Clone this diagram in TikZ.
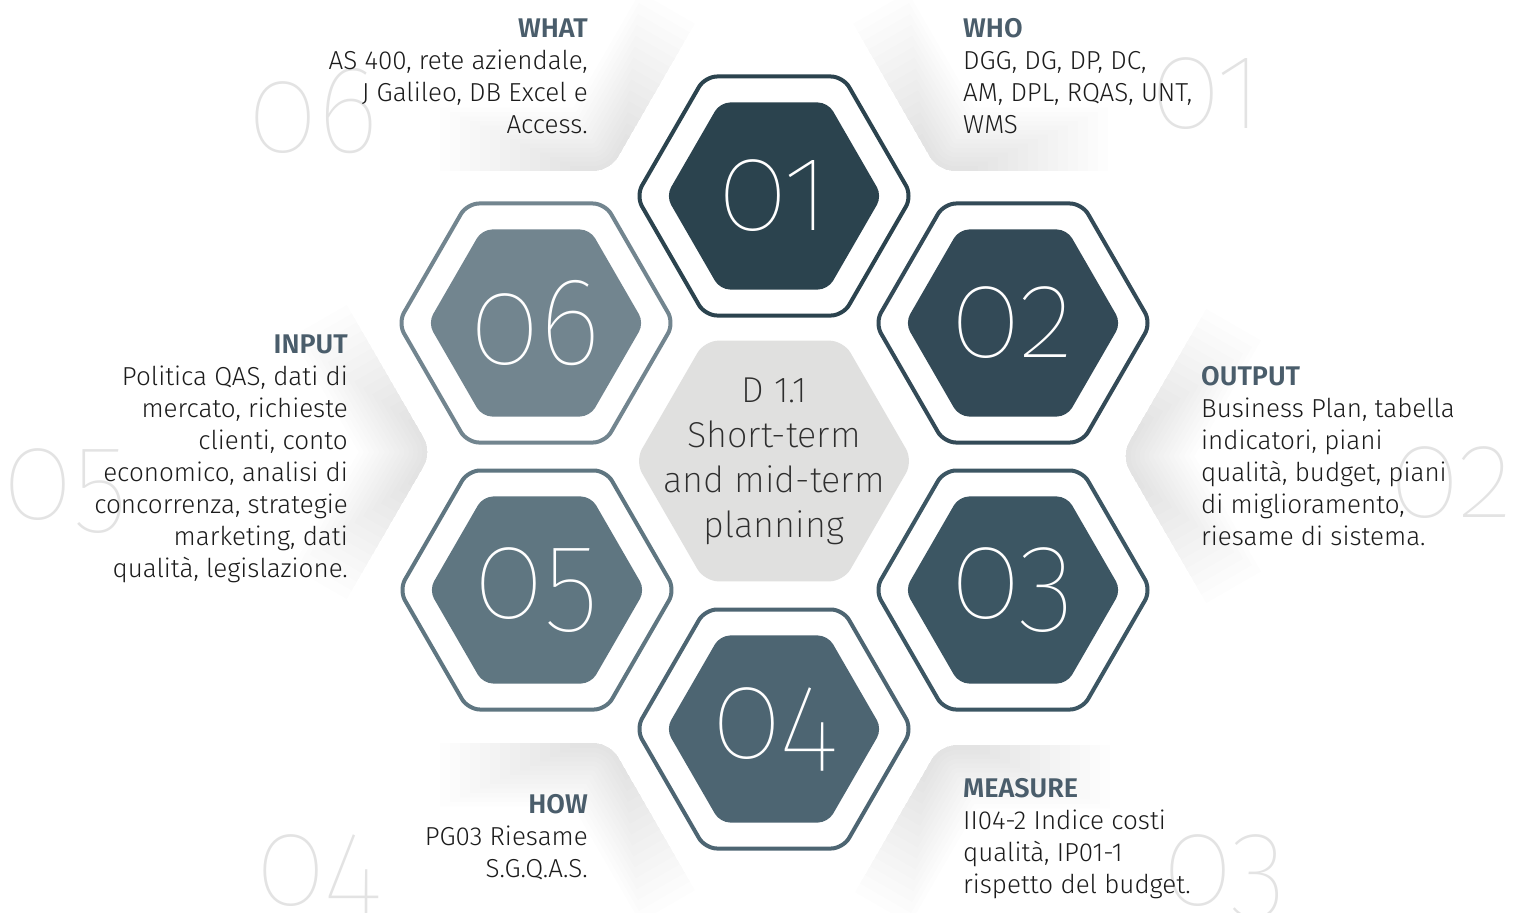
\documentclass[tikz,border=0pt]{standalone}
\usepackage{fontspec}
\setmainfont{FiraSans-Light.ttf}[BoldFont=FiraSans-SemiBold.ttf]
\newfontfamily\thinnum{FiraSans-Thin.ttf}[Numbers=OldStyle, FakeStretch=0.94]
\newfontfamily\ctrfont{FiraSans-ExtraLight.ttf}
\definecolor{hA}{HTML}{2B434E}
\definecolor{hB}{HTML}{334A57}
\definecolor{hC}{HTML}{3C5663}
\definecolor{hD}{HTML}{4D6572}
\definecolor{hE}{HTML}{5F7681}
\definecolor{hF}{HTML}{72858F}
\definecolor{headc}{HTML}{4A5D6B}
\definecolor{bodyc}{HTML}{1C1C1C}
\definecolor{centerc}{HTML}{E0E0DF}
\definecolor{ctext}{HTML}{2E2E2E}
\definecolor{faint}{HTML}{E3E3E3}
\newcommand\hexpath[3]{(#1+#3,#2) -- (#1+0.5*#3,#2+0.866*#3) -- (#1-0.5*#3,#2+0.866*#3) -- (#1-#3,#2) -- (#1-0.5*#3,#2-0.866*#3) -- (#1+0.5*#3,#2-0.866*#3) -- cycle}
% soft shadow inside a clip shape, strongest at a corner and along two arms
% #1 clip shape, #2,#3 corner, #4,#5 arm-1 direction, #6,#7 arm-2 direction
\newcommand\cornershadow[7]{%
  \begin{scope}
    \clip[rounded corners=16bp] #1;
    \foreach \i in {1,...,14} {%
      \pgfmathsetmacro\w{136-9*\i}%
      \pgfmathsetmacro\l{180-10*\i}%
      \draw[shadowstroke, line width=\w bp] ({#2+(#4)*\l},{#3+(#5)*\l}) -- (#2,#3) -- ({#2+(#6)*\l},{#3+(#7)*\l});
    }
  \end{scope}}
\newcommand\hd[1]{{\color{headc}\bfseries\fontsize{27bp}{32bp}\selectfont #1}}
\tikzset{
  hexline/.style={line width=4bp, rounded corners=12bp},
  hexfill/.style={rounded corners=10bp},
  shadowstroke/.style={black, opacity=0.0095, rounded corners=16bp},
  num/.style={inner sep=0pt, text=white, font=\thinnum\fontsize{125bp}{125bp}\selectfont},
  faintnum/.style={inner sep=0pt, text=faint, font=\thinnum\fontsize{125bp}{125bp}\selectfont},
  blockR/.style={align=right, inner sep=0pt, text=bodyc, font=\fontsize{26bp}{32bp}\selectfont},
  blockL/.style={align=left, inner sep=0pt, text=bodyc, font=\fontsize{26bp}{32bp}\selectfont},
  ctr/.style={align=center, inner sep=0pt, text=ctext, font=\ctrfont\fontsize{36bp}{45bp}\selectfont}
}
\begin{document}
\begin{tikzpicture}[x=1bp,y=-1bp]
\useasboundingbox[fill=white] (0,0) rectangle (1518,912);
% soft shadows behind text blocks
\cornershadow{(380,-20) -- (720,-20) -- (610,171) -- (380,171) -- cycle}{610}{171}{-1}{0}{0.5}{-0.866}
\cornershadow{(828,-20) -- (1140,-20) -- (1140,171) -- (938,171) -- cycle}{938}{171}{-0.5}{-0.866}{1}{0}
\cornershadow{(260,250) -- (315,250) -- (432,452) -- (315,654) -- (260,654) -- cycle}{432}{452}{-0.5}{-0.866}{-0.5}{0.866}
\cornershadow{(1121,456) -- (1238,254) -- (1290,254) -- (1290,658) -- (1238,658) -- cycle}{1121}{456}{0.5}{-0.866}{0.5}{0.866}
\cornershadow{(940,745) -- (1140,745) -- (1140,932) -- (832,932) -- cycle}{940}{745}{-0.5}{0.866}{1}{0}
\cornershadow{(380,743) -- (610,743) -- (719,932) -- (380,932) -- cycle}{610}{743}{-1}{0}{0.5}{0.866}
% faint background numbers
\node[faintnum, anchor=base west] (f6) at (248.5,152) {06};
\node[faintnum, anchor=base west] (f1) at (1151,128) {01};
\node[faintnum, anchor=base west] (f5) at (3.5,519) {05};
\node[faintnum, anchor=base east] (f2) at (1514,517) {02};
\node[faintnum, anchor=base west] (f3) at (1163,905) {03};
\node[faintnum, anchor=base west] (f4) at (256,905) {04};
% centre hexagon
\fill[centerc, rounded corners=14bp] \hexpath{774}{461}{139};
\node[ctr, anchor=north] (ctrtext) at (774,378) {D 1.1\\Short-term\\and mid-term\\planning};
% hexagons
\draw[hexline, draw=hA] \hexpath{774}{196}{138};
\fill[hexfill, hA] \hexpath{774}{196}{108};
\node[num] (n1) at (774,196) {01};
\draw[hexline, draw=hB] \hexpath{1013}{323}{138};
\fill[hexfill, hB] \hexpath{1013}{323}{108};
\node[num] (n2) at (1013,323) {02};
\draw[hexline, draw=hC] \hexpath{1013}{590}{138};
\fill[hexfill, hC] \hexpath{1013}{590}{108};
\node[num] (n3) at (1013,590) {03};
\draw[hexline, draw=hD] \hexpath{774}{729}{138};
\fill[hexfill, hD] \hexpath{774}{729}{108};
\node[num] (n4) at (774,729) {04};
\draw[hexline, draw=hE] \hexpath{537}{590}{138};
\fill[hexfill, hE] \hexpath{537}{590}{108};
\node[num] (n5) at (537,590) {05};
\draw[hexline, draw=hF] \hexpath{536}{323}{138};
\fill[hexfill, hF] \hexpath{536}{323}{108};
\node[num] (n6) at (536,323) {06};
% text blocks
\node[blockR, anchor=north east] (what) at (588,18.4) {\hd{WHAT}\\AS 400, rete aziendale,\\J Galileo, DB Excel e\\Access.};
\node[blockL, anchor=north west] (who) at (963,18.4) {\hd{WHO}\\DGG, DG, DP, DC,\\AM, DPL, RQAS, UNT,\\WMS};
\node[blockR, anchor=north east] (input) at (348,334.4) {\hd{INPUT}\\Politica QAS, dati di\\mercato, richieste\\clienti, conto\\economico, analisi di\\concorrenza, strategie\\marketing, dati\\qualità, legislazione.};
\node[blockL, anchor=north west] (output) at (1201,366.4) {\hd{OUTPUT}\\Business Plan, tabella\\indicatori, piani\\qualità, budget, piani\\di miglioramento,\\riesame di sistema.};
\node[blockL, anchor=north west] (measure) at (963,778.4) {\hd{MEASURE}\\II04-2 Indice costi\\qualità, IP01-1\\rispetto del budget.};
\node[blockR, anchor=north east] (how) at (588,794.4) {\hd{HOW}\\PG03 Riesame\\S.G.Q.A.S.};
\end{tikzpicture}
\end{document}
